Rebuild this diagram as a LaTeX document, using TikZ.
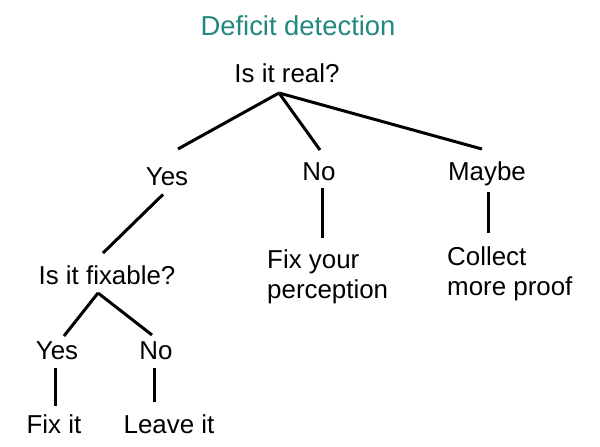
\documentclass[tikz,border=0pt]{standalone}
\usepackage{fontspec}
\setmainfont{Liberation Sans}
\usetikzlibrary{positioning,calc}
\definecolor{Teal}{HTML}{23897F}

\begin{document}
\begin{tikzpicture}[x=1bp,y=-1bp, every node/.style={font=\fontsize{26}{30}\selectfont,inner sep=0pt,anchor=base}, title/.style={font=\fontsize{27.5}{32}\selectfont,text=Teal}, answer/.style={align=left,anchor=north west}, link/.style={line width=3bp,draw=black}]
\useasboundingbox[fill=white] (0,0) rectangle (600,447);
\node[title] (head) at (298,36) {Deficit detection};
\node (real) at (287,83) {Is it real?};
\node (yes) at (167,186) {Yes};
\node (no) at (319,181) {No};
\node (maybe) at (487,181) {Maybe};
\node (fixable) at (107,285) {Is it fixable?};
\node (yes2) at (57,359) {Yes};
\node (no2) at (156,359) {No};
\node (fixit) at (54,433) {Fix it};
\node (leave) at (169,433) {Leave it};
\node[answer] (fixyour) at (267,250) {Fix your\\perception};
\node[answer] (collect) at (447,247) {Collect\\more proof};
\coordinate (realfork) at ($(real.base)+(-8,10)$);
\coordinate (fixfork) at ($(fixable.base)+(-9,8)$);
% first level
\draw[link] (realfork) -- ($(yes.north)+(11,-19)$);
\draw[link] (realfork) -- ($(no.north)+(1,-13)$);
\draw[link] (realfork) -- ($(maybe.north)+(-5,-13)$);
\draw[link] ($(no.south)+(3,7)$) -- ($(no.south |- fixyour.north)+(3,-12)$);
\draw[link] ($(maybe.south)+(1,5)$) -- ($(maybe.south |- collect.north)+(1,-14)$);
% second level
\draw[link] ($(yes.south)+(-4,8)$) -- ($(fixable.north)+(-4,-13)$);
\draw[link] (fixfork) -- ($(yes2.north)+(7,-5)$);
\draw[link] (fixfork) -- ($(no2.north)+(-4,-6)$);
\draw[link] ($(yes2.south)+(-2,9)$) -- ($(yes2.south |- fixit.north)+(-2,-8)$);
\draw[link] ($(no2.south)+(-2,9)$) -- ($(no2.south |- leave.north)+(-2,-12)$);
\end{tikzpicture}
\end{document}
